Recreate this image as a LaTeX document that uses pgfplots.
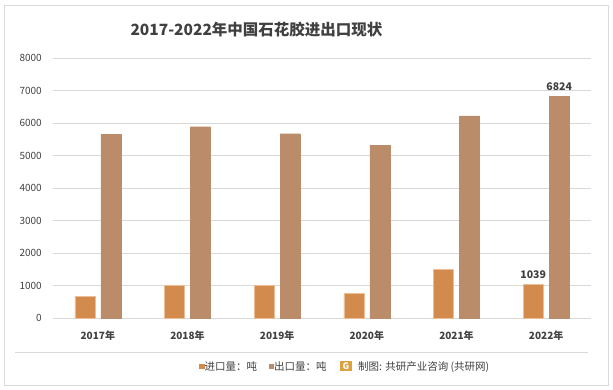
\documentclass[border=0pt]{standalone}
\usepackage{pgfplots}
\pgfplotsset{compat=1.18}
\usepackage{fontspec}
\setmainfont{Noto Sans CJK SC}
\definecolor{impc}{HTML}{D38B4D}
\definecolor{impe}{HTML}{EDBE95}
\definecolor{expc}{HTML}{BB8C6A}
\definecolor{gridc}{HTML}{D9D9D9}
\definecolor{txt}{HTML}{404040}
\pgfplotstableread{
x imp exp
0 670 5640
1 1010 5885
2 1010 5670
3 755 5320
4 1490 6220
5 1039 6824
}\datatab
\begin{document}
\begin{tikzpicture}[x=1pt,y=1pt]
\useasboundingbox (0,0) rectangle (613,390);
\draw[gridc,line width=0.8pt] (4,4.5) rectangle (608.5,385);
\node[font=\fontsize{15.5}{16}\selectfont\bfseries,text=txt] at (256.5,360) {2017-2022年中国石花胶进出口现状};
\draw[gridc,line width=0.7pt] (15,38) -- (588,38);
\begin{axis}[
  at={(53pt,72pt)}, anchor=south west,
  scale only axis, width=538pt, height=260pt,
  xmin=-0.5, xmax=5.5, ymin=0, ymax=8000,
  ytick={0,1000,...,8000},
  xtick={0,1,2,3,4,5},
  xticklabels={2017年,2018年,2019年,2020年,2021年,2022年},
  axis line style={draw=none},
  major tick length=0pt,
  ymajorgrids, grid style={gridc,line width=0.8pt},
  yticklabel style={font=\fontsize{10}{10}\selectfont, text=txt, anchor=east, inner sep=0pt, xshift=-11pt},
  xticklabel style={font=\fontsize{10}{10}\selectfont\bfseries, text=txt, anchor=north, inner sep=0pt, yshift=-13pt},
  /pgf/number format/assume math mode=true,
  scaled y ticks=false,
  yticklabel={\pgfmathprintnumber[fixed,1000 sep={}]{\tick}},
  bar width=20pt,
  clip=false,
]
\addplot[ybar, bar shift=-13pt, fill=impc, draw=impe, line width=0.6pt] table[x=x,y=imp] {\datatab};
\addplot[ybar, bar shift=13pt, fill=expc, draw=expc] table[x=x,y=exp] {\datatab};
\addplot[only marks, mark=none, nodes near coords, point meta=explicit symbolic,
  every node near coord/.append style={font=\fontsize{10.5}{10}\selectfont\bfseries, text=txt, xshift=-13pt, yshift=2pt}]
  coordinates {(5,1039) [1039]};
\addplot[only marks, mark=none, nodes near coords, point meta=explicit symbolic,
  every node near coord/.append style={font=\fontsize{10.5}{10}\selectfont\bfseries, text=txt, xshift=13pt, yshift=2pt}]
  coordinates {(5,6824) [6824]};
\end{axis}
\fill[impc] (199,20.5) rectangle (204.5,26);
\node[anchor=west,inner sep=0pt,font=\fontsize{10.5}{10}\selectfont,text=txt] at (204.5,23) {进口量：吨};
\fill[expc] (268.5,20.5) rectangle (274,26);
\node[anchor=west,inner sep=0pt,font=\fontsize{10.5}{10}\selectfont,text=txt] at (274,23) {出口量：吨};
\fill[impc!80!yellow] (340,18.5) rectangle (352,28.5);
\node[font=\fontsize{9}{9}\selectfont\bfseries,text=white,inner sep=0pt] at (346,23.5) {G};
\node[anchor=west,inner sep=0pt,font=\fontsize{10.5}{10}\selectfont,text=txt] at (358,23) {制图: 共研产业咨询 (共研网)};
\end{tikzpicture}
\end{document}
